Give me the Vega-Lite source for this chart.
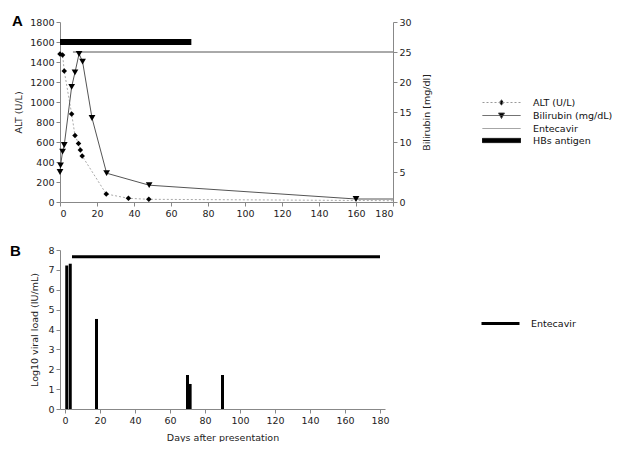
{
  "$schema": "https://vega.github.io/schema/vega-lite/v6.json",
  "background": "white",
  "padding": {"left": 10, "top": 14, "right": 0, "bottom": 0},
  "spacing": 26,
  "datasets": {
    "panelA": [
      {"series": "HBs antigen", "day": 0, "end": 71, "value": 1600},
      {"series": "Entecavir", "day": 7, "end": 180, "value": 1500},
      {"series": "ALT (U/L)", "day": 0, "value": 1480},
      {"series": "ALT (U/L)", "day": 1.4, "value": 1470},
      {"series": "ALT (U/L)", "day": 2.3, "value": 1310},
      {"series": "ALT (U/L)", "day": 6.3, "value": 880},
      {"series": "ALT (U/L)", "day": 8.1, "value": 665},
      {"series": "ALT (U/L)", "day": 10, "value": 585},
      {"series": "ALT (U/L)", "day": 11, "value": 520},
      {"series": "ALT (U/L)", "day": 12, "value": 460},
      {"series": "ALT (U/L)", "day": 25, "value": 80},
      {"series": "ALT (U/L)", "day": 37, "value": 37},
      {"series": "ALT (U/L)", "day": 48, "value": 27},
      {"series": "ALT (U/L)", "day": 180, "value": 13},
      {"series": "Bilirubin (mg/dL)", "day": 0, "value": 5.0},
      {"series": "Bilirubin (mg/dL)", "day": 0.3, "value": 6.1},
      {"series": "Bilirubin (mg/dL)", "day": 1.4, "value": 8.4},
      {"series": "Bilirubin (mg/dL)", "day": 2.3, "value": 9.5},
      {"series": "Bilirubin (mg/dL)", "day": 6.3, "value": 19.2},
      {"series": "Bilirubin (mg/dL)", "day": 8.1, "value": 21.6},
      {"series": "Bilirubin (mg/dL)", "day": 10.3, "value": 24.7},
      {"series": "Bilirubin (mg/dL)", "day": 12.2, "value": 23.4},
      {"series": "Bilirubin (mg/dL)", "day": 17.3, "value": 14.0},
      {"series": "Bilirubin (mg/dL)", "day": 25.2, "value": 4.8},
      {"series": "Bilirubin (mg/dL)", "day": 48.2, "value": 2.8},
      {"series": "Bilirubin (mg/dL)", "day": 160, "value": 0.5},
      {"series": "Bilirubin (mg/dL)", "day": 180, "value": 0.5}
    ],
    "panelB": [
      {"treatment": "Viral load", "day": 1, "value": 7.22},
      {"treatment": "Viral load", "day": 3, "value": 7.31},
      {"treatment": "Viral load", "day": 18, "value": 4.53},
      {"treatment": "Viral load", "day": 70, "value": 1.71},
      {"treatment": "Viral load", "day": 71.5, "value": 1.26},
      {"treatment": "Viral load", "day": 90, "value": 1.71},
      {"treatment": "Entecavir", "day": 4, "end": 180, "value": 7.66}
    ]
  },
  "vconcat": [
    {
      "width": 333,
      "height": 180,
      "title": {"text": "A", "anchor": "start", "frame": "group", "dx": -48, "dy": 0, "offset": -24, "baseline": "alphabetic", "fontSize": 15, "font": "Liberation Sans", "fontWeight": "bold", "color": "black"},
      "data": {"name": "panelA"},
      "encoding": {
        "x": {"field": "day", "type": "quantitative", "scale": {"domain": [0, 180], "nice": false},
              "axis": {"values": [0, 20, 40, 60, 80, 100, 120, 140, 160, 180], "title": null, "format": "d"}}
      },
      "layer": [
        {
          "encoding": {
            "y": {"field": "value", "type": "quantitative", "scale": {"domain": [0, 1800], "nice": false},
                  "axis": {"values": [0, 200, 400, 600, 800, 1000, 1200, 1400, 1600, 1800], "title": "ALT (U/L)", "orient": "left", "titlePadding": 6, "format": "d"}}
          },
          "layer": [
            {"transform": [{"filter": "datum.series === 'HBs antigen'"}],
             "mark": {"type": "rule", "strokeWidth": 6, "color": "black", "strokeCap": "butt"},
             "encoding": {"x2": {"field": "end"}}},
            {"transform": [{"filter": "datum.series === 'Entecavir'"}],
             "mark": {"type": "rule", "strokeWidth": 1, "color": "#555"},
             "encoding": {"x2": {"field": "end"}}},
            {"transform": [{"filter": "datum.series === 'ALT (U/L)'"}],
             "mark": {"type": "line", "color": "#aaa", "strokeDash": [2, 2], "strokeWidth": 1}},
            {"transform": [{"filter": "datum.series === 'ALT (U/L)' && datum.day < 170"}],
             "mark": {"type": "point", "shape": "diamond", "filled": true, "color": "black", "size": 30, "opacity": 1}},
            {"mark": {"type": "point", "filled": true, "fill": "black", "opacity": 0, "strokeWidth": 1},
             "encoding": {
               "shape": {"field": "series", "type": "nominal",
                         "scale": {"domain": ["ALT (U/L)", "Bilirubin (mg/dL)", "Entecavir", "HBs antigen"],
                                   "range": ["M-3.8,0H3.8M0,-0.6L0.45,0L0,0.6L-0.45,0Z", "M-3.8,0H3.8M-0.6,-0.5H0.6L0,0.6Z", "M-3.8,0H3.8", "M-3.8,-0.42H3.8V0.42H-3.8Z"]},
                         "legend": {"title": null, "legendX": 436, "legendY": 75}},
               "stroke": {"field": "series", "type": "nominal",
                          "scale": {"domain": ["ALT (U/L)", "Bilirubin (mg/dL)", "Entecavir", "HBs antigen"], "range": ["#999", "#444", "#888", "#000"]},
                          "legend": {"title": null, "legendX": 436, "legendY": 75}},
               "strokeDash": {"field": "series", "type": "nominal",
                              "scale": {"domain": ["ALT (U/L)", "Bilirubin (mg/dL)", "Entecavir", "HBs antigen"], "range": [[2, 2], [1, 0], [1, 0], [1, 0]]},
                              "legend": {"title": null, "legendX": 436, "legendY": 75}}
             }}
          ]
        },
        {
          "transform": [{"filter": "datum.series === 'Bilirubin (mg/dL)'"}],
          "encoding": {
            "y": {"field": "value", "type": "quantitative", "scale": {"domain": [0, 30], "nice": false},
                  "axis": {"values": [0, 5, 10, 15, 20, 25, 30], "title": "Bilirubin [mg/dl]", "orient": "right", "titlePadding": 20, "titleAngle": 270}}
          },
          "layer": [
            {"mark": {"type": "line", "color": "#555", "strokeWidth": 1}},
            {"transform": [{"filter": "datum.day < 170"}],
             "mark": {"type": "point", "shape": "triangle-down", "filled": true, "color": "black", "size": 45, "opacity": 1}}
          ]
        }
      ],
      "resolve": {"scale": {"y": "independent"}}
    },
    {
      "width": 325,
      "height": 159,
      "title": {"text": "B", "anchor": "start", "frame": "group", "dx": -50, "dy": 0, "offset": -26, "baseline": "alphabetic", "fontSize": 15, "font": "Liberation Sans", "fontWeight": "bold", "color": "black"},
      "data": {"name": "panelB"},
      "encoding": {
        "x": {"field": "day", "type": "quantitative", "scale": {"domain": [0, 180], "nice": false},
              "axis": {"values": [0, 20, 40, 60, 80, 100, 120, 140, 160, 180], "title": "Days after presentation", "titlePadding": 8, "format": "d"}},
        "y": {"field": "value", "type": "quantitative", "scale": {"domain": [0, 8], "nice": false},
              "axis": {"values": [0, 1, 2, 3, 4, 5, 6, 7, 8], "title": "Log10 viral load (IU/mL)", "titlePadding": 8}}
      },
      "layer": [
        {"transform": [{"filter": "datum.treatment === 'Viral load'"}],
         "mark": {"type": "bar", "size": 3, "color": "black"}},
        {"transform": [{"filter": "datum.treatment === 'Entecavir'"}],
         "mark": {"type": "rule", "strokeWidth": 3, "color": "black", "strokeCap": "butt"},
         "encoding": {"x2": {"field": "end"}}},
        {"transform": [{"filter": "datum.treatment === 'Entecavir'"}],
         "mark": {"type": "point", "filled": false, "opacity": 0},
         "encoding": {
           "shape": {"field": "treatment", "type": "nominal",
                     "scale": {"domain": ["Entecavir"], "range": ["M-3.8,0H3.8"]},
                     "legend": {"title": null, "legendX": 434, "legendY": 67, "symbolStrokeWidth": 3, "symbolStrokeColor": "black", "labelOffset": 24}}
         }}
      ]
    }
  ],
  "resolve": {"scale": {"shape": "independent", "stroke": "independent", "strokeDash": "independent"}, "legend": {"shape": "independent", "stroke": "independent", "strokeDash": "independent"}},
  "config": {
    "view": {"stroke": null},
    "legend": {"orient": "none", "symbolSize": 100, "symbolStrokeWidth": 1, "symbolOpacity": 1, "labelOffset": 26, "rowPadding": 2, "padding": 0, "labelFont": "DejaVu Sans", "labelFontSize": 9.5, "labelColor": "#111"},
    "axis": {"grid": false, "domainColor": "#888", "tickColor": "#888", "tickSize": 4, "labelFont": "DejaVu Sans", "labelFontSize": 9.5, "labelColor": "#222", "titleFont": "DejaVu Sans", "titleFontSize": 9.5, "titleFontWeight": "normal", "titleColor": "#222", "labelPadding": 2}
  }
}
